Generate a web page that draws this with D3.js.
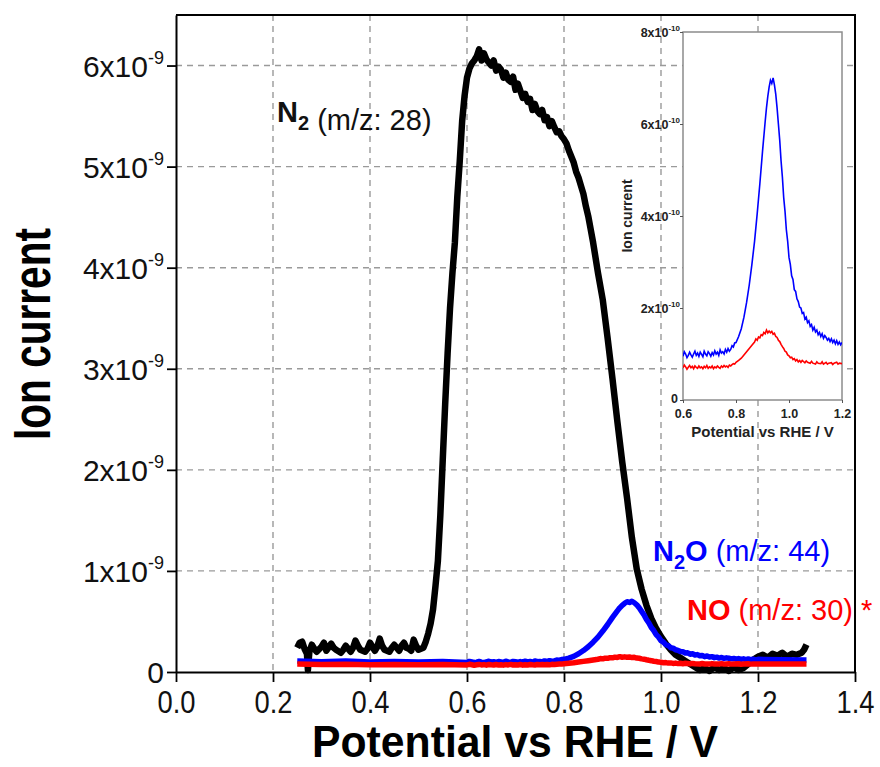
<!DOCTYPE html>
<html>
<head>
<meta charset="utf-8">
<script src="https://cdnjs.cloudflare.com/ajax/libs/d3/7.8.5/d3.min.js"></script>
<style>
  body { margin: 0; background: #fff; }
  svg { display: block; font-family: "Liberation Sans", Arial, sans-serif; }
  .grid line { stroke: #9a9a9a; stroke-width: 1.4; stroke-dasharray: 6,5; }
</style>
</head>
<body>
<div class="viz"></div>
<script>
// [potential V vs RHE, ion current in units of 1e-10 A]
const n2 = [
  [0.25,2.4],[0.255,2.9],[0.26,3.0],[0.265,2.3],[0.27,1.8],[0.272,0.2],[0.275,2.0],[0.28,2.7],
  [0.285,2.3],[0.29,2.0],[0.30,2.5],[0.305,2.9],[0.31,2.1],[0.32,2.8],[0.325,2.4],[0.33,2.2],
  [0.34,1.9],[0.345,2.2],[0.35,2.6],[0.36,2.0],[0.365,2.4],[0.37,3.1],[0.375,2.6],[0.38,2.2],
  [0.39,2.0],[0.395,2.3],[0.40,2.9],[0.41,2.1],[0.415,2.5],[0.42,3.3],[0.425,2.6],[0.43,2.2],
  [0.44,2.0],[0.445,2.4],[0.45,2.7],[0.46,2.1],[0.465,2.6],[0.47,2.9],[0.475,2.4],[0.48,2.3],
  [0.485,2.1],[0.49,3.2],[0.495,2.6],[0.50,2.2],[0.51,2.4],[0.515,3.0],[0.52,3.8],[0.525,4.8],
  [0.53,6.2],[0.535,8.5],[0.54,11.0],[0.545,15.5],[0.55,21.0],[0.555,26.5],[0.56,31.5],
  [0.565,36.0],[0.57,39.5],[0.575,42.5],[0.58,47.0],[0.585,50.5],[0.59,54.5],[0.595,57.0],
  [0.60,58.8],[0.605,59.7],[0.61,60.2],[0.615,60.5],[0.62,60.9],[0.625,61.6],[0.63,60.5],
  [0.635,61.2],[0.64,60.6],[0.645,60.3],[0.65,60.0],[0.655,60.5],[0.66,59.5],[0.665,59.9],
  [0.67,59.6],[0.675,58.8],[0.68,59.3],[0.685,58.6],[0.69,58.4],[0.695,58.9],[0.70,57.6],
  [0.705,58.2],[0.71,57.5],[0.715,56.8],[0.72,57.2],[0.725,56.4],[0.73,56.7],[0.735,55.6],
  [0.74,56.2],[0.745,55.5],[0.75,55.2],[0.755,55.6],[0.76,54.6],[0.765,54.9],[0.77,54.0],
  [0.775,54.5],[0.78,53.9],[0.785,53.4],[0.79,53.5],[0.795,53.0],[0.80,52.7],[0.805,52.3],
  [0.81,51.6],[0.815,51.0],[0.82,50.4],[0.825,49.5],[0.83,48.9],[0.835,48.1],[0.84,47.3],
  [0.845,46.1],[0.85,45.1],[0.855,43.8],[0.86,42.5],[0.87,39.5],[0.88,36.8],[0.89,33.0],
  [0.90,29.0],[0.91,24.8],[0.92,20.8],[0.93,17.2],[0.94,13.3],[0.95,10.2],[0.96,8.2],
  [0.97,6.6],[0.98,5.3],[0.99,4.3],[1.00,3.5],[1.01,2.8],[1.02,2.2],[1.03,1.7],[1.04,1.4],
  [1.05,1.1],[1.06,0.8],[1.07,0.5],[1.08,0.2],[1.09,0.4],[1.10,0.1],[1.11,0.5],[1.12,0.2],
  [1.13,0.4],[1.14,0.1],[1.15,0.5],[1.16,0.2],[1.17,0.4],[1.18,0.8],[1.19,1.2],[1.20,1.5],
  [1.21,1.7],[1.22,1.4],[1.23,1.8],[1.24,1.6],[1.25,1.9],[1.26,1.5],[1.27,1.8],[1.28,1.7],
  [1.29,1.9],[1.295,2.2],[1.30,2.7]
];

const n2o = [
  [0.25,1.10],[0.30,1.02],[0.35,1.08],[0.40,1.00],[0.45,1.05],[0.50,0.98],[0.55,1.03],
  [0.60,0.95],[0.605,1.05],[0.61,1.00],[0.615,0.92],[0.62,0.97],[0.625,1.04],[0.63,0.98],
  [0.635,0.93],[0.64,1.00],[0.645,1.06],[0.65,0.97],[0.655,1.02],[0.66,0.95],[0.665,1.04],
  [0.67,0.99],[0.675,0.94],[0.68,1.06],[0.685,1.00],[0.69,0.96],[0.695,1.05],[0.70,1.01],
  [0.705,0.95],[0.71,1.03],[0.715,0.98],[0.72,1.07],[0.725,1.00],[0.73,1.04],[0.735,0.97],
  [0.74,1.09],[0.745,1.02],[0.75,1.05],[0.755,1.00],[0.76,1.10],[0.765,1.04],[0.77,1.12],
  [0.775,1.06],[0.78,1.10],[0.785,1.18],[0.79,1.15],[0.795,1.24],[0.80,1.25],[0.81,1.38],
  [0.82,1.55],[0.83,1.80],[0.84,2.12],[0.85,2.50],[0.86,2.95],[0.87,3.45],[0.88,4.05],
  [0.89,4.70],[0.90,5.40],[0.91,6.05],[0.915,6.35],[0.92,6.60],[0.925,6.80],[0.93,6.95],
  [0.935,6.88],[0.94,7.00],[0.945,6.85],[0.95,6.65],[0.955,6.35],[0.96,6.00],[0.965,5.65],
  [0.97,5.20],[0.975,4.85],[0.98,4.40],[0.985,4.10],[0.99,3.70],[0.995,3.45],[1.00,3.10],
  [1.005,2.95],[1.01,2.70],[1.015,2.62],[1.02,2.40],[1.025,2.36],[1.03,2.20],[1.035,2.14],
  [1.04,2.02],[1.045,2.00],[1.05,1.88],[1.055,1.90],[1.06,1.76],[1.065,1.80],[1.07,1.68],
  [1.075,1.72],[1.08,1.60],[1.085,1.64],[1.09,1.52],[1.095,1.58],[1.10,1.48],[1.105,1.52],
  [1.11,1.42],[1.115,1.47],[1.12,1.38],[1.125,1.44],[1.13,1.34],[1.135,1.40],[1.14,1.36],
  [1.145,1.30],[1.15,1.34],[1.155,1.27],[1.16,1.33],[1.165,1.25],[1.17,1.30],[1.175,1.22],
  [1.18,1.29],[1.185,1.21],[1.19,1.26],[1.195,1.20],[1.20,1.25],[1.25,1.20],[1.30,1.18]
];

const no = [
  [0.25,0.78],[0.30,0.74],[0.35,0.76],[0.40,0.72],[0.45,0.75],[0.50,0.71],[0.55,0.74],
  [0.60,0.70],[0.605,0.76],[0.61,0.72],[0.615,0.67],[0.62,0.71],[0.625,0.75],[0.63,0.70],
  [0.635,0.73],[0.64,0.68],[0.645,0.74],[0.65,0.71],[0.655,0.69],[0.66,0.74],[0.665,0.70],
  [0.67,0.72],[0.675,0.68],[0.68,0.73],[0.685,0.70],[0.69,0.75],[0.695,0.69],[0.70,0.72],
  [0.705,0.70],[0.71,0.74],[0.715,0.68],[0.72,0.72],[0.725,0.70],[0.73,0.74],[0.735,0.71],
  [0.74,0.69],[0.745,0.74],[0.75,0.71],[0.755,0.75],[0.76,0.72],[0.765,0.74],[0.77,0.71],
  [0.775,0.76],[0.78,0.74],[0.785,0.77],[0.79,0.79],[0.795,0.78],[0.80,0.82],[0.81,0.86],
  [0.82,0.91],[0.83,0.98],[0.84,1.05],[0.85,1.12],[0.86,1.19],[0.87,1.26],[0.875,1.33],
  [0.88,1.30],[0.885,1.37],[0.89,1.35],[0.895,1.42],[0.90,1.40],[0.905,1.47],[0.91,1.44],
  [0.915,1.52],[0.92,1.46],[0.925,1.50],[0.93,1.46],[0.935,1.49],[0.94,1.43],[0.945,1.45],
  [0.95,1.38],[0.955,1.36],[0.96,1.30],[0.965,1.27],[0.97,1.21],[0.975,1.16],[0.98,1.12],
  [0.985,1.06],[0.99,1.04],[0.995,0.98],[1.00,0.96],[1.005,0.92],[1.01,0.93],[1.015,0.88],
  [1.02,0.90],[1.025,0.85],[1.03,0.88],[1.035,0.83],[1.04,0.86],[1.045,0.82],[1.05,0.86],
  [1.06,0.81],[1.065,0.85],[1.07,0.82],[1.08,0.80],[1.085,0.84],[1.09,0.80],[1.10,0.78],
  [1.105,0.83],[1.11,0.80],[1.12,0.79],[1.125,0.83],[1.13,0.78],[1.14,0.82],[1.145,0.78],
  [1.15,0.80],[1.16,0.81],[1.165,0.77],[1.17,0.80],[1.18,0.82],[1.185,0.78],[1.19,0.80],
  [1.20,0.79],[1.25,0.79],[1.30,0.80]
];

const xTicks = [0, 0.2, 0.4, 0.6, 0.8, 1.0, 1.2, 1.4];
const xGrid = [0.2, 0.4, 0.6, 0.8, 1.0, 1.2];
const yTicks = [0, 1, 2, 3, 4, 5, 6];          // x10^-9
const yGrid = [1, 2, 3, 4, 5, 6];
const insetXTicks = [0.6, 0.8, 1.0, 1.2];
const insetYTicks = [0, 2, 4, 6, 8];           // x10^-10

const width = 880, height = 767;
const UNIT = 1e-10;

var svg = d3.select('.viz').append('svg')
    .attr('width', width)
    .attr('height', height);

svg.append('rect').attr('width', width).attr('height', height).attr('fill', '#fff');

// main scales
var x = d3.scaleLinear().domain([0, 1.4]).range([176, 855]);
var y = d3.scaleLinear().domain([0, 6.5e-9]).range([672, 15]);

// grid
var grid = svg.append('g').attr('class', 'grid');
grid.selectAll('.vx').data(xGrid).enter().append('line')
    .attr('x1', d => x(d)).attr('x2', d => x(d))
    .attr('y1', y.range()[1]).attr('y2', y.range()[0]);
grid.selectAll('.hy').data(yGrid).enter().append('line')
    .attr('x1', x.range()[0]).attr('x2', x.range()[1])
    .attr('y1', d => y(d * 1e-9)).attr('y2', d => y(d * 1e-9));

// frame top / right
svg.append('path')
    .attr('d', `M${x.range()[0]},${y.range()[1]}H${x.range()[1]}V${y.range()[0]}`)
    .attr('fill', 'none').attr('stroke', '#000').attr('stroke-width', 2);

// axes
var xAxis = svg.append('g')
    .attr('transform', `translate(0,${y.range()[0]})`)
    .call(d3.axisBottom(x).tickValues(xTicks).tickSize(10).tickSizeOuter(0).tickFormat(d3.format('.1f')));
xAxis.select('.domain').attr('stroke-width', 2);
xAxis.selectAll('.tick line').attr('stroke-width', 1.8);
xAxis.selectAll('.tick text')
    .attr('y', 41).attr('dy', null)
    .attr('font-size', 31).attr('font-family', '"Liberation Sans", Arial, sans-serif').attr('fill', '#111')
    .attr('textLength', 38).attr('lengthAdjust', 'spacingAndGlyphs');

var yAxis = svg.append('g')
    .attr('transform', `translate(${x.range()[0]},0)`)
    .call(d3.axisLeft(y).tickValues(yTicks.map(d => d * 1e-9)).tickSize(9).tickSizeOuter(0));
yAxis.select('.domain').attr('stroke-width', 2);
yAxis.selectAll('.tick line').attr('stroke-width', 1.8);
yAxis.selectAll('.tick text')
    .text(null)
    .attr('x', -12).attr('dy', '0.36em')
    .attr('font-size', 30).attr('font-family', '"Liberation Sans", Arial, sans-serif').attr('fill', '#111')
    .each(function(d, i) {
        let t = d3.select(this);
        if (yTicks[i] === 0) { t.text('0'); return; }
        t.append('tspan').text(yTicks[i] + 'x10');
        t.append('tspan').attr('font-size', 18).attr('dy', -13).text('-9');
    });

// curves
var line = d3.line().x(d => x(d[0])).y(d => y(d[1] * UNIT));
svg.append('path').datum(n2).attr('d', line)
    .attr('fill', 'none').attr('stroke', '#000').attr('stroke-width', 6.5).attr('stroke-linejoin', 'round');
svg.append('path').datum(n2o).attr('d', line)
    .attr('fill', 'none').attr('stroke', '#0000ff').attr('stroke-width', 5.5).attr('stroke-linejoin', 'round');
svg.append('path').datum(no).attr('d', line)
    .attr('fill', 'none').attr('stroke', '#ff0000').attr('stroke-width', 5.5).attr('stroke-linejoin', 'round');

// axis titles
svg.append('text')
    .attr('x', 515).attr('y', 757)
    .attr('text-anchor', 'middle')
    .attr('font-size', 44).attr('font-weight', 'bold')
    .attr('textLength', 406).attr('lengthAdjust', 'spacingAndGlyphs')
    .text('Potential vs RHE / V');

svg.append('text')
    .attr('transform', 'translate(50,334) rotate(-90)')
    .attr('text-anchor', 'middle')
    .attr('font-size', 51).attr('font-weight', 'bold')
    .attr('textLength', 212).attr('lengthAdjust', 'spacingAndGlyphs')
    .text('Ion current');

// labels
function label(px, py, color, name, sub, rest) {
    let t = svg.append('text').attr('x', px).attr('y', py).attr('fill', color).attr('font-size', 29);
    t.append('tspan').attr('font-weight', 'bold').text(name[0]);
    if (sub) {
        t.append('tspan').attr('font-size', 20).attr('dy', 8).attr('font-weight', 'bold').text(sub);
        t.append('tspan').attr('dy', -8).attr('font-weight', 'bold').text(name.slice(1));
    } else {
        t.select('tspan').text(name);
    }
    t.append('tspan').text(rest);
}
label(277, 122, '#111', 'N', '2', ' (m/z: 28)');
label(653, 561, '#0000ff', 'NO', '2', ' (m/z: 44)');
label(687, 620, '#ff0000', 'NO', null, ' (m/z: 30) *');

// inset
var ix = d3.scaleLinear().domain([0.6, 1.2]).range([683, 842]);
var iy = d3.scaleLinear().domain([0, 8e-10]).range([400, 32]);

svg.append('rect')
    .attr('x', ix.range()[0]).attr('y', iy.range()[1])
    .attr('width', ix.range()[1] - ix.range()[0]).attr('height', iy.range()[0] - iy.range()[1])
    .attr('fill', '#fff').attr('stroke', '#8c8c8c').attr('stroke-width', 1.5);

svg.append('clipPath').attr('id', 'inset-clip').append('rect')
    .attr('x', ix.range()[0]).attr('y', iy.range()[1])
    .attr('width', ix.range()[1] - ix.range()[0]).attr('height', iy.range()[0] - iy.range()[1]);

var iline = d3.line().x(d => ix(d[0])).y(d => iy(d[1] * UNIT));
var ig = svg.append('g').attr('clip-path', 'url(#inset-clip)');
ig.append('path').datum(n2o.filter(d => d[0] >= 0.6 && d[0] <= 1.2)).attr('d', iline)
    .attr('fill', 'none').attr('stroke', '#0000ff').attr('stroke-width', 1.6);
ig.append('path').datum(no.filter(d => d[0] >= 0.6 && d[0] <= 1.2)).attr('d', iline)
    .attr('fill', 'none').attr('stroke', '#ff0000').attr('stroke-width', 1.6);

var ixAxis = svg.append('g')
    .attr('transform', `translate(0,${iy.range()[0]})`)
    .call(d3.axisBottom(ix).tickValues(insetXTicks).tickSize(3).tickSizeOuter(0).tickFormat(d3.format('.1f')));
ixAxis.select('.domain').remove();
ixAxis.selectAll('.tick line').attr('stroke', '#555');
ixAxis.selectAll('.tick text')
    .attr('y', 18).attr('dy', null)
    .attr('font-size', 12.5).attr('font-weight', 'bold').attr('fill', '#222');

var iyAxis = svg.append('g')
    .attr('transform', `translate(${ix.range()[0]},0)`)
    .call(d3.axisLeft(iy).tickValues(insetYTicks.map(d => d * 1e-10)).tickSize(3).tickSizeOuter(0));
iyAxis.select('.domain').remove();
iyAxis.selectAll('.tick line').attr('stroke', '#555');
iyAxis.selectAll('.tick text')
    .text(null)
    .attr('x', -3).attr('dy', '0.36em')
    .attr('font-size', 12.5).attr('font-weight', 'bold').attr('fill', '#222')
    .each(function(d, i) {
        let t = d3.select(this);
        if (insetYTicks[i] === 0) { t.attr('x', -5).attr('dy', '0.2em').text('0'); return; }
        t.append('tspan').text(insetYTicks[i] + 'x10');
        t.append('tspan').attr('font-size', 8).attr('dy', -6).text('-10');
    });

svg.append('text')
    .attr('x', (ix.range()[0] + ix.range()[1]) / 2).attr('y', 437)
    .attr('text-anchor', 'middle')
    .attr('font-size', 15).attr('font-weight', 'bold').attr('fill', '#222')
    .text('Potential vs RHE / V');

svg.append('text')
    .attr('transform', `translate(632,${(iy.range()[0] + iy.range()[1]) / 2}) rotate(-90)`)
    .attr('text-anchor', 'middle')
    .attr('font-size', 14).attr('font-weight', 'bold').attr('fill', '#222')
    .text('Ion current');
</script>
</body>
</html>
